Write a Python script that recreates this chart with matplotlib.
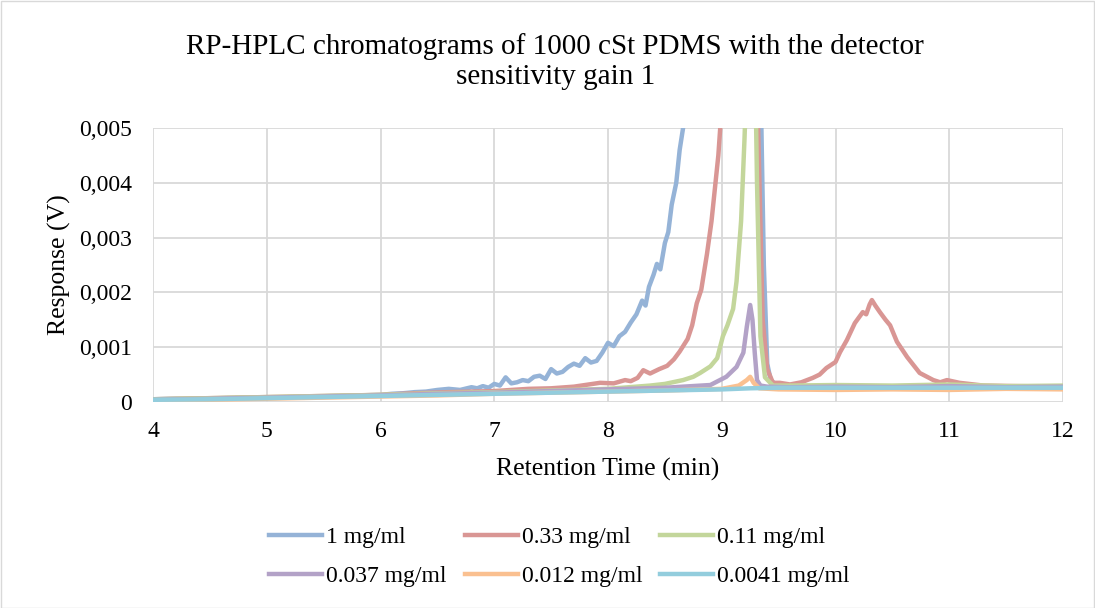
import matplotlib
matplotlib.use("Agg")
import matplotlib.pyplot as plt
from matplotlib.patches import Rectangle
from matplotlib.ticker import FuncFormatter

plt.rcParams['font.family'] = ['Liberation Serif', 'DejaVu Serif']

title = "RP-HPLC chromatograms of 1000 cSt PDMS with the detector\nsensitivity gain 1"
xlabel = "Retention Time (min)"
ylabel = "Response (V)"
labels = ["1 mg/ml", "0.33 mg/ml", "0.11 mg/ml", "0.037 mg/ml", "0.012 mg/ml", "0.0041 mg/ml"]
colors = ["#95B3D7", "#D99694", "#C3D69B", "#B3A2C7", "#FAC090", "#93CDDD"]

t_1 = [4.0, 4.2, 4.4, 4.6, 4.8, 5.0, 5.2, 5.4, 5.6, 5.8, 6.0, 6.1, 6.2, 6.3, 6.4, 6.5, 6.6,
       6.7, 6.8, 6.85, 6.9, 6.95, 7.0, 7.05, 7.1, 7.15, 7.2, 7.25, 7.3, 7.35, 7.4, 7.45, 7.5,
       7.55, 7.6, 7.65, 7.7, 7.75, 7.8, 7.85, 7.9, 7.95, 8.0, 8.05, 8.1, 8.15, 8.2, 8.25, 8.3,
       8.33, 8.36, 8.4, 8.43, 8.46, 8.5, 8.53, 8.56, 8.6, 8.63, 8.66, 8.72, 8.8, 8.9, 9.0,
       9.1, 9.2, 9.3, 9.34, 9.37, 9.40, 9.43, 9.47, 9.55, 9.7, 9.9, 10.2, 10.6, 11.0, 11.5, 12.0]
v_1 = [0.00005, 0.00006, 0.00006, 0.00007, 0.00008, 0.00008, 0.00009, 0.00010, 0.00011,
       0.00012, 0.00013, 0.00015, 0.00016, 0.00018, 0.00019, 0.00022, 0.00024, 0.00022,
       0.00027, 0.00025, 0.00029, 0.00026, 0.00033, 0.00030, 0.00045, 0.00034, 0.00036,
       0.00040, 0.00038, 0.00046, 0.00048, 0.00042, 0.00060, 0.00052, 0.00055, 0.00064,
       0.00070, 0.00066, 0.00080, 0.00072, 0.00075, 0.00090, 0.00108, 0.00102, 0.00120,
       0.00128, 0.00145, 0.00160, 0.00185, 0.00176, 0.00210, 0.00232, 0.00252, 0.00242,
       0.00290, 0.00310, 0.00360, 0.00400, 0.00460, 0.00500, 0.0065, 0.0090, 0.0130, 0.0180,
       0.0220, 0.0200, 0.0120, 0.0060, 0.0025, 0.0007, 0.00040, 0.00033, 0.00030, 0.00028,
       0.00029, 0.00027, 0.00028, 0.00029, 0.00027, 0.00028]

t_033 = [4.0, 4.5, 5.0, 5.5, 6.0, 6.3, 6.6, 7.0, 7.3, 7.5, 7.7, 7.93, 8.05, 8.15, 8.2, 8.26,
         8.31, 8.37, 8.45, 8.52, 8.58, 8.63, 8.7, 8.74, 8.78, 8.82, 8.87, 8.91, 8.94, 8.97,
         9.0, 9.1, 9.2, 9.28, 9.32, 9.36, 9.40, 9.45, 9.51, 9.6, 9.7, 9.8, 9.86, 9.92, 10.0,
         10.04, 10.10, 10.17, 10.24, 10.27, 10.30, 10.32, 10.35, 10.39, 10.44, 10.48, 10.54,
         10.63, 10.74, 10.86, 10.92, 10.98, 11.09, 11.3, 11.6, 12.0]
v_033 = [0.00005, 0.00007, 0.00009, 0.00011, 0.00013, 0.00016, 0.00018, 0.00020, 0.00024,
         0.00025, 0.00028, 0.00035, 0.00034, 0.00040, 0.00038, 0.00044, 0.00058, 0.00052,
         0.00060, 0.00066, 0.00078, 0.00092, 0.00115, 0.00140, 0.00180, 0.00205, 0.00270,
         0.00330, 0.00390, 0.00450, 0.00540, 0.0100, 0.0150, 0.0100, 0.0050, 0.0015, 0.00060,
         0.00035, 0.00035, 0.00032, 0.00036, 0.00044, 0.00050, 0.00062, 0.00073, 0.00091,
         0.00113, 0.00144, 0.00164, 0.00160, 0.00178, 0.00186, 0.00176, 0.00164, 0.00150,
         0.00140, 0.00110, 0.00082, 0.00053, 0.00040, 0.00036, 0.00040, 0.00035, 0.00030,
         0.00029, 0.00028]

t_011 = [4.0, 4.5, 5.0, 5.5, 6.0, 6.5, 7.0, 7.5, 8.0, 8.37, 8.5, 8.66, 8.75, 8.81, 8.9,
         8.96, 9.01, 9.05, 9.10, 9.13, 9.17, 9.20, 9.22, 9.25, 9.28, 9.31, 9.34, 9.38, 9.45,
         9.6, 10.0, 10.5, 11.0, 11.5, 12.0]
v_011 = [0.00005, 0.00007, 0.00009, 0.00011, 0.00013, 0.00016, 0.00018, 0.00021, 0.00024,
         0.00030, 0.00033, 0.00040, 0.00046, 0.00053, 0.00065, 0.00080, 0.00120, 0.00140,
         0.00170, 0.00220, 0.00330, 0.00480, 0.00600, 0.0090, 0.0080, 0.0040, 0.0012,
         0.00045, 0.00030, 0.00030, 0.00031, 0.00030, 0.00032, 0.00029, 0.00030]

t_0037 = [4.0, 4.5, 5.0, 5.5, 6.0, 6.5, 7.0, 7.5, 8.0, 8.5, 8.9, 9.04, 9.13, 9.19, 9.22,
          9.25, 9.27, 9.29, 9.31, 9.34, 9.4, 9.6, 10.0, 10.5, 11.0, 11.5, 12.0]
v_0037 = [0.00004, 0.00006, 0.00008, 0.00010, 0.00012, 0.00015, 0.00017, 0.00020, 0.00023,
          0.00026, 0.00031, 0.00046, 0.00064, 0.00090, 0.00137, 0.00177, 0.00150, 0.00090,
          0.00040, 0.00030, 0.00028, 0.00027, 0.00028, 0.00027, 0.00029, 0.00027, 0.00028]

t_0012 = [4.0, 4.5, 5.0, 5.5, 6.0, 6.5, 7.0, 7.5, 8.0, 8.5, 9.0, 9.15, 9.22, 9.25, 9.28,
          9.33, 9.5, 10.0, 10.5, 11.0, 11.5, 12.0]
v_0012 = [0.00003, 0.00004, 0.00006, 0.00008, 0.00010, 0.00012, 0.00015, 0.00017, 0.00019,
          0.00021, 0.00024, 0.00030, 0.00040, 0.00046, 0.00035, 0.00025, 0.00023, 0.00022,
          0.00023, 0.00022, 0.00024, 0.00023]

t_00041 = [4.0, 4.5, 5.0, 5.5, 6.0, 6.5, 7.0, 7.5, 8.0, 8.5, 9.0, 9.25, 9.5, 10.0, 10.5,
           11.0, 11.5, 12.0]
v_00041 = [0.00004, 0.00005, 0.00007, 0.00009, 0.00011, 0.00013, 0.00015, 0.00017, 0.00019,
           0.00021, 0.00023, 0.00025, 0.00026, 0.00026, 0.00026, 0.00026, 0.00026, 0.00026]

series_t = [t_1, t_033, t_011, t_0037, t_0012, t_00041]
series_v = [v_1, v_033, v_011, v_0037, v_0012, v_00041]

W, H = 1095, 608
fig = plt.figure(figsize=(W / 100, H / 100), dpi=100)
fig.patches.append(Rectangle((0.5 / W, 0.5 / H), 1 - 1.5 / W, 1 - 1.5 / H, transform=fig.transFigure,
                             fill=False, edgecolor="#D9D9D9", linewidth=1))

ax = fig.add_axes([153 / W, 1 - 402 / H, (1063 - 153) / W, (402 - 128) / H])
handles = []
for t, v, c, lab in zip(series_t, series_v, colors, labels):
    h, = ax.plot(t, v, color=c, linewidth=3.2, label=lab, solid_joinstyle="round")
    handles.append(h)

ax.set_xlim(4, 12)
ax.set_ylim(0, 0.005)
ax.set_xticks(range(4, 13))
ax.set_yticks([0, 0.001, 0.002, 0.003, 0.004, 0.005])
ax.yaxis.set_major_formatter(FuncFormatter(lambda y, p: "0" if abs(y) < 1e-12 else f"{y:.3f}".replace(".", ",")))
ax.grid(True, color="#D9D9D9", linewidth=1.3)
ax.set_axisbelow(True)
for s in ax.spines.values():
    s.set_visible(False)
ax.tick_params(length=0, labelsize=17, labelcolor="black")
ax.tick_params(axis="x", pad=14)
ax.tick_params(axis="y", pad=15)
ax.set_xlabel(xlabel, fontsize=18.5, labelpad=11)
ax.set_ylabel(ylabel, fontsize=18.5, labelpad=6)

fig.text(0.507, 1 - 61.5 / H, title, ha="center", va="center", fontsize=21, linespacing=1.2)

order = [0, 3, 1, 4, 2, 5]
fig.legend([handles[i] for i in order], [labels[i] for i in order], ncol=3,
           loc="center", bbox_to_anchor=(0.511, 1 - 557 / H), frameon=False, fontsize=17,
           handlelength=2.25, columnspacing=0.75, handletextpad=0.17, labelspacing=0.72)

fig.savefig("out.png", dpi=100)
